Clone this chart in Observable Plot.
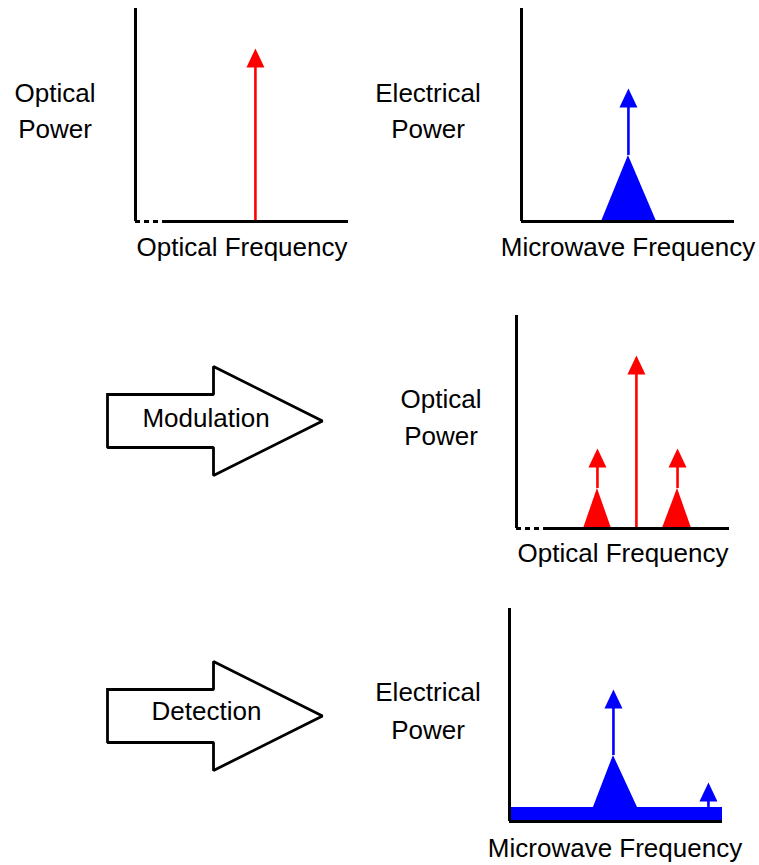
<!DOCTYPE html>
<html><head><meta charset="utf-8">
<script src="https://cdn.jsdelivr.net/npm/d3@7"></script>
<script src="https://cdn.jsdelivr.net/npm/@observablehq/plot@0.6"></script>
<style>
body{margin:0;background:#fff;}
#fig{position:relative;width:759px;height:865px;overflow:hidden;background:#fff;font-family:"Liberation Sans",Arial,Helvetica,sans-serif;}
.lbl{position:absolute;font-size:26px;line-height:26px;white-space:nowrap;transform:translateX(-50%);color:#000;}
.panel{position:absolute;}
</style></head><body><div id="fig"></div>
<script>
// ---------- data (frequency and power in arbitrary % units of each panel's axes) ----------
// Panel A: laser (optical spectrum)
const laserFreq = [56.3], laserPower = [81.2], laserBase = [0];
// Panel B: microwave oscillator (electrical spectrum)
const oscFreq = [50.2], oscPower = [62.4], oscBase = [31.0];
const oscPedestalFreq = [37.6, 50.2, 63.4], oscPedestalPower = [0, 31.0, 0], oscPedestalGroup = ["c","c","c"];
// Panel C: modulated optical spectrum (lower sideband, carrier, upper sideband)
const modFreq = [38.0, 56.3, 75.6], modPower = [37.6, 81.2, 37.6], modBase = [18.8, 0, 18.8];
const sbPedestalGroup = ["lower","lower","lower","upper","upper","upper"];
const sbPedestalFreq = [31.5, 38.0, 44.6, 68.5, 75.6, 82.2];
const sbPedestalPower = [0, 18.8, 0, 0, 18.8, 0];
// Panel D: detected microwave spectrum
const detFreq = [48.8, 93.4], detPower = [62.0, 18.3], detBase = [31.0, 6.6];
const detSpectrumFreq = [0, 39.4, 48.8, 60.1, 100];
const detSpectrumPower = [6.6, 6.6, 31.0, 6.6, 6.6];
const detSpectrumGroup = ["d","d","d","d","d"];
// broken-axis segment (frequency)
const axisBreakEnd = 12.7;
// block arrow outline (length units, half-height units)
const blockArrowX = [0, 106, 106, 215, 106, 106, 0, 0];
const blockArrowY = [26.5, 26.5, 54.5, 0, -54.5, -26.5, -26.5, 26.5];
// texts
const powerLabels = [["Optical","Power"],["Electrical","Power"],["Optical","Power"],["Electrical","Power"]];
const freqLabels = ["Optical Frequency","Microwave Frequency","Optical Frequency","Microwave Frequency"];
const stepLabels = ["Modulation","Detection"];

const RED = "#ff0000", BLUE = "#0000ff";
const fig = document.getElementById("fig");

const lines = (f, p, b) => f.map((v, i) => ({f: v, p: p[i], b: b[i]}));
const shape = (f, p, g) => f.map((v, i) => ({f: v, p: p[i], g: g[i]}));
const head = {draw(ctx) { ctx.moveTo(0, 0); ctx.lineTo(-9, 19); ctx.lineTo(9, 19); ctx.closePath(); }};

function spectrum({ln, ped, color, brk}) {
  const marks = [];
  if (ped) marks.push(Plot.area(ped, {x1: "f", y1: 0, y2: "p", z: "g", fill: color, curve: "linear"}));
  marks.push(Plot.ruleX(ln, {x: "f", y1: "b", y2: d => d.p - 4, stroke: color, strokeWidth: 2.6}));
  marks.push(Plot.dot(ln, {x: "f", y: "p", symbol: head, fill: color, stroke: "none"}));
  marks.push(Plot.ruleX([0], {y1: 0, y2: 100, stroke: "#000", strokeWidth: 3}));
  if (brk) {
    marks.push(Plot.ruleY([0], {x1: 0, x2: brk, stroke: "#000", strokeWidth: 3, strokeDasharray: "5,4"}));
    marks.push(Plot.ruleY([0], {x1: brk, x2: 100, stroke: "#000", strokeWidth: 3}));
  } else {
    marks.push(Plot.ruleY([0], {x1: 0, x2: 100, stroke: "#000", strokeWidth: 3}));
  }
  return Plot.plot({
    width: 221, height: 221, margin: 4,
    x: {domain: [0, 100], axis: null}, y: {domain: [0, 100], axis: null},
    style: {overflow: "visible", background: "transparent"},
    marks
  });
}

function blockArrow() {
  const pts = blockArrowX.map((x, i) => ({x, y: blockArrowY[i]}));
  return Plot.plot({
    width: 223, height: 117, margin: 4,
    x: {domain: [0, 215], axis: null}, y: {domain: [-54.5, 54.5], axis: null},
    style: {overflow: "visible", background: "transparent"},
    marks: [Plot.line(pts, {x: "x", y: "y", fill: "#fff", stroke: "#000", strokeWidth: 2.8,
      strokeLinejoin: "miter", strokeLinecap: "square", curve: "linear"})]
  });
}

function place(el, left, top) {
  el.classList.add("panel");
  el.style.left = left + "px"; el.style.top = top + "px";
  fig.appendChild(el);
}
function label(text, cx, baseline) {
  const d = document.createElement("div");
  d.className = "lbl"; d.textContent = text;
  d.style.left = cx + "px"; d.style.top = (baseline - 22) + "px";
  fig.appendChild(d);
}

// layout
place(spectrum({ln: lines(laserFreq, laserPower, laserBase), color: RED, brk: axisBreakEnd}), 131, 4);
place(spectrum({ln: lines(oscFreq, oscPower, oscBase), ped: shape(oscPedestalFreq, oscPedestalPower, oscPedestalGroup), color: BLUE}), 517, 4);
place(spectrum({ln: lines(modFreq, modPower, modBase), ped: shape(sbPedestalFreq, sbPedestalPower, sbPedestalGroup), color: RED, brk: axisBreakEnd}), 512, 311);
place(spectrum({ln: lines(detFreq, detPower, detBase), ped: shape(detSpectrumFreq, detSpectrumPower, detSpectrumGroup), color: BLUE}), 505, 604);
place(blockArrow(), 103, 362);
place(blockArrow(), 103, 656.5);

const powerPos = [[55, 102, 138], [428, 102, 138], [441, 408, 445], [428, 701, 739]];
powerLabels.forEach((ls, i) => { label(ls[0], powerPos[i][0], powerPos[i][1]); label(ls[1], powerPos[i][0], powerPos[i][2]); });
const freqPos = [[242, 256], [628, 256], [623, 562], [615, 857]];
freqLabels.forEach((t, i) => label(t, freqPos[i][0], freqPos[i][1]));
const stepPos = [[206, 427], [206.5, 720]];
stepLabels.forEach((t, i) => label(t, stepPos[i][0], stepPos[i][1]));
</script></body></html>
